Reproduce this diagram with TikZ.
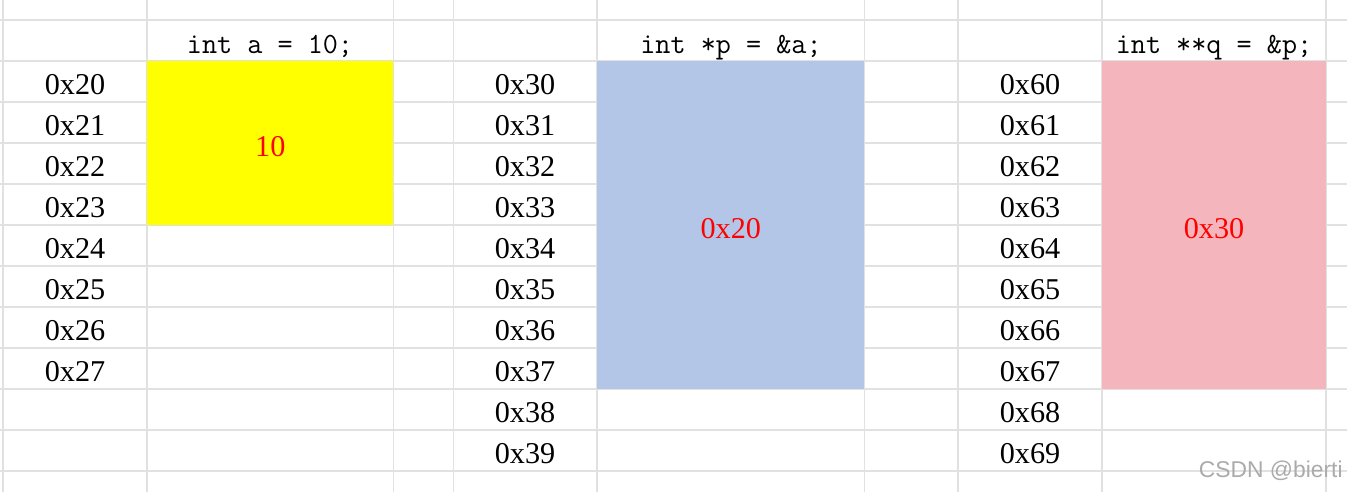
\documentclass[tikz,border=0pt]{standalone}
\usepackage{xcolor}
\usepackage{fontspec}
\usepackage{tikz}
\usetikzlibrary{positioning}
\setmainfont{Liberation Serif}
\newfontfamily\marksans{Liberation Sans}
\definecolor{memyellow}{RGB}{255,255,0}
\definecolor{memblue}{RGB}{180,198,231}
\definecolor{mempink}{RGB}{244,182,188}
\definecolor{gridgray}{RGB}{225,225,225}
\definecolor{valred}{RGB}{255,0,0}

\begin{document}
\begin{tikzpicture}[x=0.02cm, y=-0.02cm]
    \tikzstyle{gridline} = [gridgray, line width=0.6pt]
    \tikzstyle{addr} = [anchor=base, inner sep=0pt, font=\fontsize{17.2pt}{20pt}\selectfont]
    \tikzstyle{decl} = [anchor=base, inner sep=0pt, font=\ttfamily\fontsize{16.7pt}{20pt}\selectfont]
    \tikzstyle{memblock} = [rectangle, inner sep=0pt, outer sep=0pt, text=valred, text height=0.54cm, text depth=0pt, font=\fontsize{17.2pt}{20pt}\selectfont]
    \tikzstyle{watermark} = [anchor=base east, inner sep=0pt, text=black!33, font=\marksans\fontsize{13pt}{15pt}\selectfont]

    \useasboundingbox (0,0) rectangle (1347,492);
    \fill[white] (0,0) rectangle (1347,492);

    % sheet grid
    \draw [gridline] (0,20) -- (1347,20);
    \draw [gridline] (0,61) -- (1347,61);
    \draw [gridline] (0,102) -- (1347,102);
    \draw [gridline] (0,143) -- (1347,143);
    \draw [gridline] (0,184) -- (1347,184);
    \draw [gridline] (0,225) -- (1347,225);
    \draw [gridline] (0,266) -- (1347,266);
    \draw [gridline] (0,307) -- (1347,307);
    \draw [gridline] (0,348) -- (1347,348);
    \draw [gridline] (0,389) -- (1347,389);
    \draw [gridline] (0,430) -- (1347,430);
    \draw [gridline] (0,471) -- (1347,471);
    \draw [gridline] (3,0) -- (3,492);
    \draw [gridline] (147,0) -- (147,492);
    \draw [gridline] (393.5,0) -- (393.5,492);
    \draw [gridline] (453.5,0) -- (453.5,492);
    \draw [gridline] (597,0) -- (597,492);
    \draw [gridline] (864.5,0) -- (864.5,492);
    \draw [gridline] (958,0) -- (958,492);
    \draw [gridline] (1102,0) -- (1102,492);
    \draw [gridline] (1326,0) -- (1326,492);

    % declarations
    \node (decla) [decl] at (270,54) {int a = 10;};
    \node (declp) [decl] at (731,54) {int *p = \&a;};
    \node (declq) [decl] at (1214,54) {int **q = \&p;};

    % memory blocks
    \node (vara) [memblock, fill=memyellow, minimum width=4.93cm, minimum height=3.28cm] at (270.25,143) {10};
    \node (varp) [memblock, fill=memblue, minimum width=5.35cm, minimum height=6.56cm] at (730.75,225) {0x20};
    \node (varq) [memblock, fill=mempink, minimum width=4.48cm, minimum height=6.56cm] at (1214,225) {0x30};

    % addresses of a
    \node (a20) [addr] at (75,95) {0x20};
    \node (a21) [addr] at (75,136) {0x21};
    \node (a22) [addr] at (75,177) {0x22};
    \node (a23) [addr] at (75,218) {0x23};
    \node (a24) [addr] at (75,259) {0x24};
    \node (a25) [addr] at (75,300) {0x25};
    \node (a26) [addr] at (75,341) {0x26};
    \node (a27) [addr] at (75,382) {0x27};

    % addresses of p
    \node (a30) [addr] at (525,95) {0x30};
    \node (a31) [addr] at (525,136) {0x31};
    \node (a32) [addr] at (525,177) {0x32};
    \node (a33) [addr] at (525,218) {0x33};
    \node (a34) [addr] at (525,259) {0x34};
    \node (a35) [addr] at (525,300) {0x35};
    \node (a36) [addr] at (525,341) {0x36};
    \node (a37) [addr] at (525,382) {0x37};
    \node (a38) [addr] at (525,423) {0x38};
    \node (a39) [addr] at (525,464) {0x39};

    % addresses of q
    \node (a60) [addr] at (1030,95) {0x60};
    \node (a61) [addr] at (1030,136) {0x61};
    \node (a62) [addr] at (1030,177) {0x62};
    \node (a63) [addr] at (1030,218) {0x63};
    \node (a64) [addr] at (1030,259) {0x64};
    \node (a65) [addr] at (1030,300) {0x65};
    \node (a66) [addr] at (1030,341) {0x66};
    \node (a67) [addr] at (1030,382) {0x67};
    \node (a68) [addr] at (1030,423) {0x68};
    \node (a69) [addr] at (1030,464) {0x69};

    \node (mark) [watermark] at (1343,478) {CSDN @bierti};
\end{tikzpicture}
\end{document}
